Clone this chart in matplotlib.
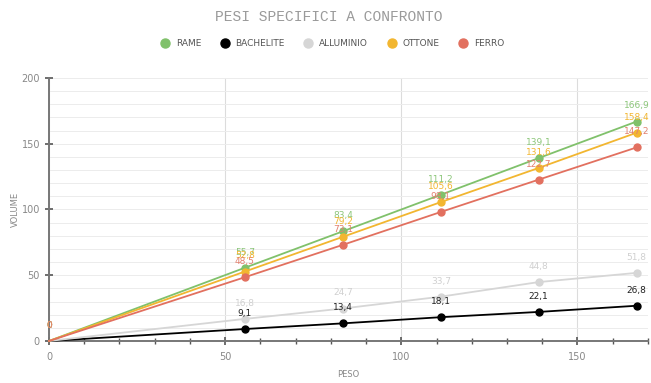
"""Line chart comparing specific weights of five materials."""

import matplotlib.pyplot as plt
from matplotlib.lines import Line2D
from matplotlib.ticker import MultipleLocator

# weights on the x axis, volumes per material on the y axis
peso = [0, 55.6, 83.4, 111.2, 139.0, 166.8]
materials = ["RAME", "BACHELITE", "ALLUMINIO", "OTTONE", "FERRO"]
rame = [0, 55.7, 83.4, 111.2, 139.1, 166.9]
bachelite = [0, 9.1, 13.4, 18.1, 22.1, 26.8]
alluminio = [0, 16.8, 24.7, 33.7, 44.8, 51.8]
ottone = [0, 52.8, 79.2, 105.6, 131.6, 158.4]
ferro = [0, 48.5, 73.1, 98.1, 122.7, 147.2]

series = [rame, bachelite, alluminio, ottone, ferro]
colors = ["#80c16b", "#000000", "#d6d6d6", "#f2b630", "#e2705f"]
label_colors = ["#8cc67a", "#222222", "#d0d0d0", "#f2b630", "#e2806f"]


def fmt(value):
    text = f"{value:.1f}".replace(".", ",")
    return "0" if value == 0 else text


fig = plt.figure(figsize=(6.51, 3.83), dpi=100)
ax = fig.add_axes([0.0753, 0.1097, 0.920, 0.6867])

for name, values, color in zip(materials, series, colors):
    ax.plot(peso, values, color=color, lw=1.3, marker="o", ms=5,
            markevery=slice(1, None), zorder=3, clip_on=False)

for values, color in zip(series, label_colors):
    for x, y in zip(peso, values):
        ax.annotate(fmt(y), (x, y), xytext=(0, 8), textcoords="offset points",
                    ha="center", va="bottom", fontsize=6.5, color=color,
                    zorder=4)

ax.set_xlim(0, 170)
ax.set_ylim(0, 200)
ax.xaxis.set_major_locator(MultipleLocator(50))
ax.xaxis.set_minor_locator(MultipleLocator(10))
ax.yaxis.set_major_locator(MultipleLocator(50))
ax.yaxis.set_minor_locator(MultipleLocator(10))

ax.grid(True, which="major", axis="x", color="#dcdcdc", lw=0.8)
ax.grid(True, which="both", axis="y", color="#ececec", lw=0.7)
ax.set_axisbelow(True)

for side in ("top", "right"):
    ax.spines[side].set_visible(False)
for side in ("left", "bottom"):
    ax.spines[side].set_color("#777777")
    ax.spines[side].set_linewidth(1.4)

ax.tick_params(axis="both", which="major", direction="inout", length=6,
               width=1.2, color="#555555", labelsize=7, labelcolor="#888888")
ax.tick_params(axis="x", which="minor", direction="inout", length=5,
               width=1.0, color="#555555")
ax.tick_params(axis="y", which="minor", length=0)
ax.tick_params(axis="x", which="major", pad=5)

ax.set_xlabel("PESO", fontsize=6, color="#888888", labelpad=6)
ax.set_ylabel("VOLUME", fontsize=6, color="#888888", labelpad=1)

fig.text(0.505, 0.955, "PESI SPECIFICI A CONFRONTO", ha="center", va="center",
         family="Liberation Mono", fontsize=10.5, color="#9a9a9a")

handles = [Line2D([], [], ls="none", marker="o", ms=6.5, color=c)
           for c in colors]
fig.legend(handles, materials, loc="center", bbox_to_anchor=(0.507, 0.886),
           ncol=5, frameon=False, fontsize=6.5, handletextpad=0.2,
           columnspacing=1.6, labelcolor="#555555")

fig.savefig("out.png", dpi=100)
